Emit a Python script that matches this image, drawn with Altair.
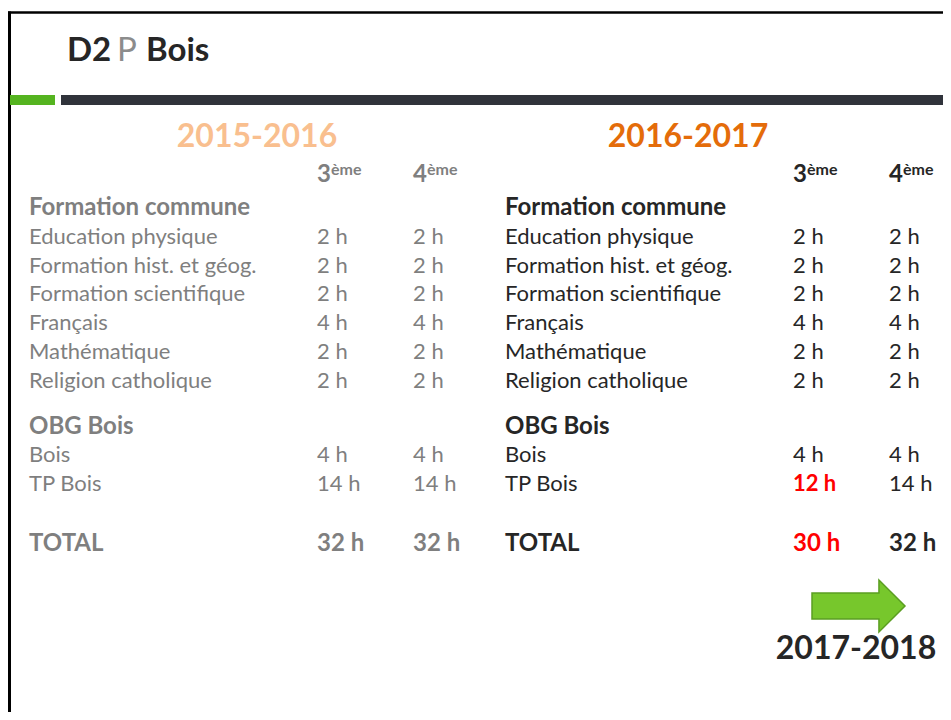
import altair as alt
import pandas as pd

# ---------------- data ----------------
title_parts = ["D2", "P", "Bois"]
title_weights = ["bold", "normal", "bold"]
years = ["2015-2016", "2016-2017"]
next_year = "2017-2018"
grades = ["3", "4"]
grade_suffix = "ème"

group_names = ["Formation commune", "OBG Bois"]
common_subjects = ["Education physique", "Formation hist. et géog.", "Formation scientifique",
                   "Français", "Mathématique", "Religion catholique"]
common_2015_3 = [2, 2, 2, 4, 2, 2]
common_2015_4 = [2, 2, 2, 4, 2, 2]
common_2016_3 = [2, 2, 2, 4, 2, 2]
common_2016_4 = [2, 2, 2, 4, 2, 2]

option_subjects = ["Bois", "TP Bois"]
option_2015_3 = [4, 14]
option_2015_4 = [4, 14]
option_2016_3 = [4, 12]
option_2016_4 = [4, 14]

total_label = "TOTAL"
total_2015 = [32, 32]
total_2016 = [30, 32]

# ---------------- layout (image pixels; chart origin is at page 8,8) ----------------
OFF = 8
W, H = 935, 704
FONT = "Lato"
COL_X = {"2015-2016": [29, 317, 413], "2016-2017": [505, 793, 889]}
YEAR_X = {"2015-2016": 257, "2016-2017": 688}
SLOT_COMMON_GROUP = 0
SLOT_OPTION_GROUP = 7.6
SLOT_OPTION_FIRST = 8.6
SLOT_TOTAL = 11.7
ROW_BASE, ROW_STEP = 215, 28.75

tone_domain = ["old", "new", "changed", "dark", "light", "year_old", "year_new"]
tone_range = ["#7F7F7F", "#262626", "#FF0000", "#262626", "#8C8C8C", "#F9BF8F", "#E46C0A"]
tone_scale = alt.Scale(domain=tone_domain, range=tone_range)


def tone_color():
    return alt.Color("tone:N", scale=tone_scale, legend=None)


# ---------------- build table cells ----------------
cells = []
panels = [
    ("2015-2016", common_2015_3, common_2015_4, option_2015_3, option_2015_4, total_2015),
    ("2016-2017", common_2016_3, common_2016_4, option_2016_3, option_2016_4, total_2016),
]
ref = panels[0]
for pi, (year, c3, c4, o3, o4, tot) in enumerate(panels):
    base = "old" if pi == 0 else "new"
    xs = COL_X[year]

    def tone_for(val, refval):
        if pi == 1 and val != refval:
            return "changed"
        return base

    def add(col, slot, text, style, tone):
        cells.append({"x": xs[col] - OFF, "slot": slot, "text": text,
                      "style": style, "tone": tone})

    def add_hours(col, slot, val, refval):
        t = tone_for(val, refval)
        add(col, slot, f"{val} h", "bold" if t == "changed" else "regular", t)

    add(0, SLOT_COMMON_GROUP, group_names[0], "heading", base)
    for i, s in enumerate(common_subjects):
        slot = SLOT_COMMON_GROUP + 1 + i
        add(0, slot, s, "regular", base)
        add_hours(1, slot, c3[i], ref[1][i])
        add_hours(2, slot, c4[i], ref[2][i])
    add(0, SLOT_OPTION_GROUP, group_names[1], "heading", base)
    for i, s in enumerate(option_subjects):
        slot = SLOT_OPTION_FIRST + i
        add(0, slot, s, "regular", base)
        add_hours(1, slot, o3[i], ref[3][i])
        add_hours(2, slot, o4[i], ref[4][i])
    add(0, SLOT_TOTAL, total_label, "heading", base)
    add(1, SLOT_TOTAL, f"{tot[0]} h", "heading", tone_for(tot[0], ref[5][0]))
    add(2, SLOT_TOTAL, f"{tot[1]} h", "heading", tone_for(tot[1], ref[5][1]))

table = pd.DataFrame(cells)

xq = alt.X("x:Q", scale=alt.Scale(domain=[0, W], range=[0, W]), axis=None)
yslot = alt.Y("slot:Q", scale=alt.Scale(domain=[0, 10], range=[ROW_BASE - OFF, ROW_BASE - OFF + 10 * ROW_STEP]),
              axis=None)

table_regular = alt.Chart(table).transform_filter("datum.style == 'regular'").mark_text(
    font=FONT, fontSize=22, align="left", baseline="alphabetic"
).encode(x=xq, y=yslot, text="text:N", color=tone_color())

table_emph = alt.Chart(table).transform_filter("datum.style == 'bold'").mark_text(
    font=FONT, fontSize=22, fontWeight="bold", align="left", baseline="alphabetic"
).encode(x=xq, y=yslot, text="text:N", color=tone_color())

table_heading = alt.Chart(table).transform_filter("datum.style == 'heading'").mark_text(
    font=FONT, fontSize=24, fontWeight="bold", align="left", baseline="alphabetic"
).encode(x=xq, y=yslot, text="text:N", color=tone_color())

# ---------------- grade headers ----------------
hdr = []
for pi, year in enumerate(years):
    for gi, g in enumerate(grades):
        hdr.append({"x": COL_X[year][gi + 1] - OFF, "digit": g, "suffix": grade_suffix,
                    "tone": "old" if pi == 0 else "new"})
hdr = pd.DataFrame(hdr)
hdr_digit = alt.Chart(hdr).mark_text(
    font=FONT, fontSize=24, fontWeight="bold", align="left", baseline="alphabetic"
).encode(x=xq, y=alt.value(182 - OFF), text="digit:N", color=tone_color())
hdr_suffix = alt.Chart(hdr).mark_text(
    font=FONT, fontSize=16, fontWeight="bold", align="left", baseline="alphabetic", dx=14
).encode(x=xq, y=alt.value(175 - OFF), text="suffix:N", color=tone_color())

# ---------------- year titles ----------------
yrs = pd.DataFrame({"year": years, "x": [YEAR_X[y] - OFF for y in years],
                    "tone": ["year_old", "year_new"]})
year_text = alt.Chart(yrs).mark_text(
    font=FONT, fontSize=32, fontWeight="bold", align="center", baseline="alphabetic"
).encode(x=xq, y=alt.value(147 - OFF), text="year:N", color=tone_color())

# ---------------- slide title ----------------
ttl = pd.DataFrame({"t": title_parts, "w": title_weights,
                    "x": [67 - OFF, 117 - OFF, 146 - OFF],
                    "tone": ["dark", "light", "dark"]})
title_bold = alt.Chart(ttl).transform_filter("datum.w == 'bold'").mark_text(
    font=FONT, fontSize=33, fontWeight="bold", align="left", baseline="alphabetic"
).encode(x=xq, y=alt.value(61 - OFF), text="t:N", color=tone_color())
title_norm = alt.Chart(ttl).transform_filter("datum.w == 'normal'").mark_text(
    font=FONT, fontSize=33, align="left", baseline="alphabetic"
).encode(x=xq, y=alt.value(61 - OFF), text="t:N", color=tone_color())

# ---------------- next year + arrow ----------------
nxt = pd.DataFrame({"t": [next_year], "x": [856 - OFF], "tone": ["dark"]})
next_text = alt.Chart(nxt).mark_text(
    font=FONT, fontSize=32, fontWeight="bold", align="center", baseline="alphabetic"
).encode(x=xq, y=alt.value(659 - OFF), text="t:N", color=tone_color())

one = pd.DataFrame({"k": [0]})
arrow_path = "M-1,-0.28 L0.44,-0.28 L0.44,-0.56 L1,0 L0.44,0.56 L0.44,0.28 L-1,0.28 Z"
arrow = alt.Chart(one).mark_point(
    shape=arrow_path, filled=True, fill="#77C72C", stroke="#5B9E22", strokeWidth=1.5,
    opacity=1, size=93 * 93
).encode(x=alt.value(858.5 - OFF), y=alt.value(606 - OFF))

# ---------------- decorative frame and bars ----------------
frame_left = alt.Chart(one).mark_rule(color="#000000", strokeWidth=3).encode(
    x=alt.value(1.5), y=alt.value(3.5), y2=alt.value(H))
frame_top = alt.Chart(one).mark_rule(color="#000000", strokeWidth=2.5).encode(
    x=alt.value(0), x2=alt.value(W), y=alt.value(4.5))
bar_green = alt.Chart(one).mark_rule(color="#55B420", strokeWidth=10).encode(
    x=alt.value(10 - OFF), x2=alt.value(55 - OFF), y=alt.value(100 - OFF))
bar_dark = alt.Chart(one).mark_rule(color="#30333B", strokeWidth=10).encode(
    x=alt.value(61 - OFF), x2=alt.value(W), y=alt.value(100 - OFF))

chart = alt.layer(
    frame_left, frame_top, bar_green, bar_dark,
    title_bold, title_norm, year_text, hdr_digit, hdr_suffix,
    table_regular, table_emph, table_heading, arrow, next_text
).properties(
    width=W, height=H, padding=0, autosize="none", background="white"
).configure_view(stroke=None)

chart.save("out.html", embed_options={"renderer": "svg", "actions": False})
